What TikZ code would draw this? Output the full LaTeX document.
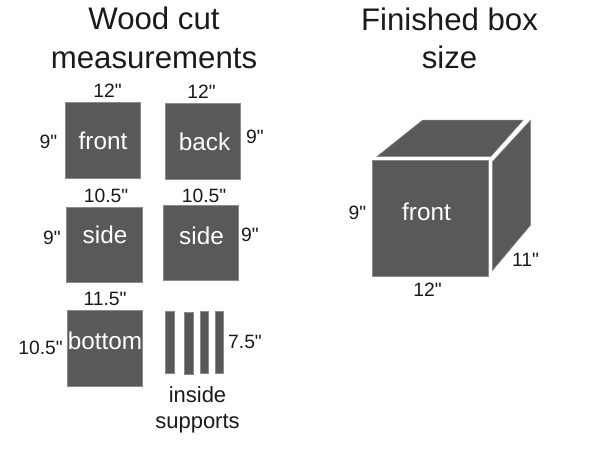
\documentclass[tikz,border=0pt]{standalone}
\usepackage{fontspec}
\setmainfont{Liberation Sans}
\newfontfamily\plainf{Liberation Sans}
\definecolor{panel}{HTML}{595959}
\definecolor{ink}{HTML}{1A1A1A}
\tikzset{x=1pt,y=-1pt,
  panelbox/.style={fill=panel,draw=panel!70!white,line width=0.5pt},
  title/.style={text=ink,font=\fontsize{31.2}{38.5}\selectfont,align=center,inner sep=0pt},
  dim/.style={text=ink,font=\plainf\fontsize{19.3}{23}\selectfont,inner sep=0pt},
  wlabel/.style={text=white,font=\fontsize{24.3}{29}\selectfont,inner sep=0pt},
  blabel/.style={text=ink,font=\fontsize{22}{26}\selectfont,align=center,inner sep=0pt}}
\begin{document}
\begin{tikzpicture}
\useasboundingbox (0,0) rectangle (600,452);
\node[title] (t1) at (154,38) {Wood cut\\measurements};
\node[title] (t2) at (449.5,38.5) {Finished box\\size};
\path[panelbox] (65.5,102.7) rectangle (140.7,178);
\path[panelbox] (165,103.5) rectangle (240.5,179);
\path[panelbox] (66.5,207) rectangle (142,282);
\path[panelbox] (163,205) rectangle (238.5,280);
\path[panelbox] (67.3,310.7) rectangle (142.7,386);
\path[panelbox] (165.7,311.5) rectangle (174.5,373.5);
\path[panelbox] (184,312) rectangle (193,374);
\path[panelbox] (200,311.5) rectangle (208.5,373.5);
\path[panelbox] (215,311.5) rectangle (223.5,373.5);
\path[panelbox] (372.3,160.3) rectangle (488.3,276);
\path[panelbox] (376.7,156.7) -- (422.7,120) -- (523.3,120) -- (490.7,156.7) -- cycle;
\path[panelbox] (492.3,161.7) -- (530.7,120) -- (530.7,225) -- (492.3,270.7) -- cycle;
\node[wlabel] (f1) at (103,141) {front};
\node[wlabel] (b1) at (204.5,142) {back};
\node[wlabel] (s1) at (105,234.5) {side};
\node[wlabel] (s2) at (201.5,236) {side};
\node[wlabel] (bo) at (105,341) {bottom};
\node[wlabel] (f2) at (426.5,212) {front};
\node[dim] (a1) at (107.5,91) {12"};
\node[dim] (a2) at (201.5,92) {12"};
\node[dim] (a3) at (48.5,142) {9"};
\node[dim] (a4) at (255,137) {9"};
\node[dim] (a5) at (106,196) {10.5"};
\node[dim] (a6) at (204,196) {10.5"};
\node[dim] (a7) at (52,238) {9"};
\node[dim] (a8) at (250,235) {9"};
\node[dim] (a9) at (105,299) {11.5"};
\node[dim] (a10) at (40.5,348) {10.5"};
\node[dim] (a11) at (245,342) {7.5"};
\node[dim] (a12) at (357.5,213) {9"};
\node[dim] (a13) at (427.5,289.5) {12"};
\node[dim] (a14) at (525.5,259.5) {11"};
\node[blabel] (is) at (197.5,409.5) {inside\\supports};
\end{tikzpicture}
\end{document}
